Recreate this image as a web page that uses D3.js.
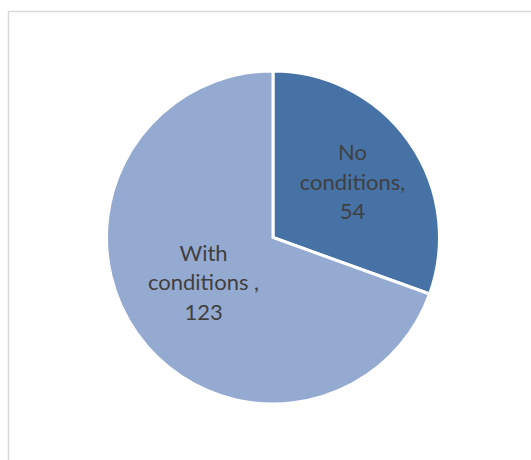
<!DOCTYPE html>
<html><head>
<meta charset="utf-8">
<script src="https://d3js.org/d3.v7.min.js"></script>
<style>
  body { margin: 0; background: #fff; }
  text { font-family: Lato, "Noto Sans", sans-serif; fill: #404040; }
</style>
</head>
<body>
<svg id="plot" width="531" height="460"></svg>
<script>
  // data
  const categories = ["No conditions", "With conditions "];
  const counts = [54, 123];
  const colors = ["#4672a6", "#95aad0"];

  const svg = d3.select("svg#plot");
  const width = +svg.attr("width");
  const height = +svg.attr("height");

  // chart area frame (runs off the right and bottom edge)
  svg.append("rect")
     .attr("x", 8.5).attr("y", 11.5)
     .attr("width", width + 20).attr("height", height + 20)
     .attr("fill", "none")
     .attr("stroke", "#d9d9d9")
     .attr("stroke-width", 1.5);

  const cx = 273, cy = 237.5, radius = 166.5;

  const pie = d3.pie().sort(null).value(d => d.value);
  const arcs = pie(categories.map((c, i) => ({label: c, value: counts[i]})));

  const arc = d3.arc().innerRadius(0).outerRadius(radius);

  let chart = svg.append("g").attr("transform", "translate(" + cx + "," + cy + ")");

  chart.selectAll("path.slice")
       .data(arcs)
       .join("path")
       .attr("class", "slice")
       .attr("d", arc)
       .attr("fill", (d, i) => colors[i])
       .attr("stroke", "#fff")
       .attr("stroke-width", 3)
       .attr("stroke-linejoin", "miter");

  // Excel "best fit" label spot
  const labelSpot = (d, i) => {
    let mid = (d.startAngle + d.endAngle) / 2;
    let r = radius * (i === 0 ? 0.57 : 0.51);
    if (i === 0) mid += 2 * Math.PI / 180;
    return [r * Math.sin(mid), -r * Math.cos(mid)];
  };

  const lineH = 29.5;
  chart.selectAll("text.lbl")
       .data(arcs)
       .join("text")
       .attr("class", "lbl")
       .attr("text-anchor", "middle")
       .attr("font-size", 22)
       .each(function(d, i) {
         let [x, y] = labelSpot(d, i);
         let lines = i === 0
           ? ["No", "conditions,", String(d.data.value)]
           : ["With", "conditions ,", String(d.data.value)];
         let t = d3.select(this);
         lines.forEach((s, k) => {
           t.append("tspan")
            .attr("x", x)
            .attr("y", y + (k - 1) * lineH + 4)
            .text(s);
         });
       });
</script>
</body>
</html>
